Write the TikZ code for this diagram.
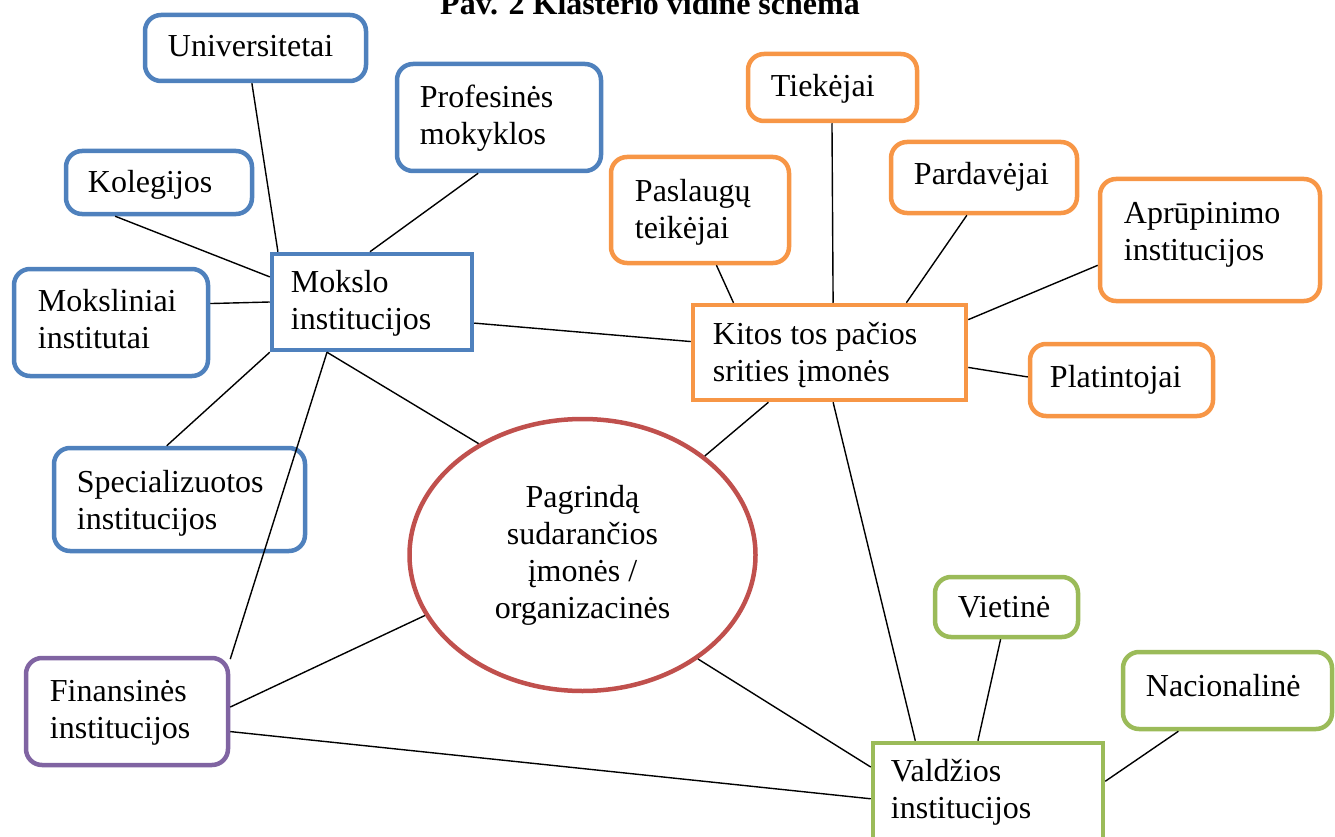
\documentclass[tikz,border=0pt]{standalone}
\usepackage{fontspec}
\setmainfont{Liberation Serif}
\usetikzlibrary{calc,shapes.geometric}
\definecolor{cblue}{HTML}{4F81BD}
\definecolor{corange}{HTML}{F79646}
\definecolor{cred}{HTML}{C0504D}
\definecolor{cpurple}{HTML}{8064A2}
\definecolor{cgreen}{HTML}{9BBB59}
\begin{document}
\begin{tikzpicture}[x=1pt,y=-1pt,
  every node/.style={font=\fontsize{32}{37}\selectfont},
  rbox/.style={draw, line width=4.5pt, rounded corners=16pt, inner sep=0pt},
  sbox/.style={draw, line width=4.5pt, inner sep=0pt},
  txt/.style={anchor=north west, inner sep=0pt, align=left},
  link/.style={draw=black, line width=1.4pt}]
\useasboundingbox (0,0) rectangle (1335,837);

% title (cut at top)
\node[anchor=base, inner sep=0pt, font=\bfseries\fontsize{32}{37}\selectfont] (title) at (650,15) {Pav. 2 Klasterio vidinė schema};

% blue group
\node[rbox, draw=cblue, minimum width=221, minimum height=66] (uni) at (255.5,48) {};
\node[txt] (uni-t) at ($(uni.north west)+(25,22.3)$) {Universitetai};
\node[rbox, draw=cblue, minimum width=204, minimum height=107] (prof) at (499,117.5) {};
\node[txt] (prof-t) at ($(prof.north west)+(25,23.3)$) {Profesinės\\mokyklos};
\node[rbox, draw=cblue, minimum width=186, minimum height=63] (kol) at (159,182.5) {};
\node[txt] (kol-t) at ($(kol.north west)+(24,21.3)$) {Kolegijos};
\node[sbox, draw=cblue, minimum width=200, minimum height=96] (mok) at (372,302) {};
\node[txt] (mok-t) at ($(mok.north west)+(21,18.3)$) {Mokslo\\institucijos};
\node[rbox, draw=cblue, minimum width=194, minimum height=107] (moks) at (111,322.5) {};
\node[txt] (moks-t) at ($(moks.north west)+(26,22.3)$) {Moksliniai\\institutai};
\node[rbox, draw=cblue, minimum width=251, minimum height=103] (spec) at (179.5,499.5) {};
\node[txt] (spec-t) at ($(spec.north west)+(25,24.3)$) {Specializuotos\\institucijos};

% purple
\node[rbox, draw=cpurple, minimum width=202, minimum height=107] (fin) at (127,711.5) {};
\node[txt] (fin-t) at ($(fin.north west)+(26,24.3)$) {Finansinės\\institucijos};

% orange group
\node[rbox, draw=corange, minimum width=169, minimum height=67] (tiek) at (832.5,87.5) {};
\node[txt] (tiek-t) at ($(tiek.north west)+(25,22.3)$) {Tiekėjai};
\node[rbox, draw=corange, minimum width=178, minimum height=106] (pasl) at (700,210) {};
\node[txt] (pasl-t) at ($(pasl.north west)+(26,24.3)$) {Paslaugų\\teikėjai};
\node[rbox, draw=corange, minimum width=186, minimum height=71] (pard) at (984,177.5) {};
\node[txt] (pard-t) at ($(pard.north west)+(25,22.3)$) {Pardavėjai};
\node[rbox, draw=corange, minimum width=220, minimum height=122] (apr) at (1210,240) {};
\node[txt] (apr-t) at ($(apr.north west)+(26,25.3)$) {Aprūpinimo\\institucijos};
\node[sbox, draw=corange, minimum width=273, minimum height=95] (kit) at (829.5,352.5) {};
\node[txt] (kit-t) at ($(kit.north west)+(22,19.3)$) {Kitos tos pačios\\srities įmonės};
\node[rbox, draw=corange, minimum width=183, minimum height=72] (plat) at (1121.5,380) {};
\node[txt] (plat-t) at ($(plat.north west)+(22,23.3)$) {Platintojai};

% ellipse
\node[draw=cred, line width=4.5pt, ellipse, minimum width=346, minimum height=272, inner sep=0pt, align=center] (ell) at (582.5,555) {Pagrindą\\sudarančios\\įmonės /\\organizacinės};

% green group
\node[sbox, draw=cgreen, minimum width=230, minimum height=105] (val) at (988,795.5) {};
\node[txt] (val-t) at ($(val.north west)+(20,18.3)$) {Valdžios\\institucijos};
\node[rbox, draw=cgreen, minimum width=143, minimum height=60] (viet) at (1006.5,607) {};
\node[txt] (viet-t) at ($(viet.north west)+(25,21.3)$) {Vietinė};
\node[rbox, draw=cgreen, minimum width=209, minimum height=77] (nac) at (1227.5,690.5) {};
\node[txt] (nac-t) at ($(nac.north west)+(25,24.3)$) {Nacionalinė};

% connectors
\draw[link] ($(uni.south west)!0.484!(uni.south east)$) -- ($(mok.north west)!0.04!(mok.north east)$);
\draw[link] ($(prof.south west)!0.40!(prof.south east)$) -- ($(mok.north west)!0.49!(mok.north east)$);
\draw[link] ($(kol.south west)!0.27!(kol.south east)$) -- ($(mok.north west)!0.25!(mok.south west)$);
\draw[link] ($(moks.north east)!0.33!(moks.south east)$) -- (mok.west);
\draw[link] ($(mok.north east)!0.71!(mok.south east)$) -- ($(kit.north west)!0.39!(kit.south west)$);
\draw[link] (mok.south west) -- ($(spec.north west)!0.45!(spec.north east)$);
\draw[link] ($(mok.south west)!0.28!(mok.south east)$) -- ($(fin.north east)!0.03!(fin.south east)$);
\draw[link] ($(mok.south west)!0.28!(mok.south east)$) -- (ell.133.8);
\draw[link] ($(kit.south west)!0.28!(kit.south east)$) -- (ell.39.4);
\draw[link] ($(kit.south west)!0.513!(kit.south east)$) -- ($(val.north west)!0.19!(val.north east)$);
\draw[link] ($(pasl.south west)!0.59!(pasl.south east)$) -- ($(kit.north west)!0.154!(kit.north east)$);
\draw[link] ($(tiek.south west)!0.497!(tiek.south east)$) -- ($(kit.north west)!0.513!(kit.north east)$);
\draw[link] ($(pard.south west)!0.41!(pard.south east)$) -- ($(kit.north west)!0.777!(kit.north east)$);
\draw[link] ($(apr.north west)!0.70!(apr.south west)$) -- ($(kit.north east)!0.17!(kit.south east)$);
\draw[link] ($(plat.north west)!0.46!(plat.south west)$) -- ($(kit.north east)!0.65!(kit.south east)$);
\draw[link] (ell.201.2) -- ($(fin.north east)!0.46!(fin.south east)$);
\draw[link] ($(fin.north east)!0.68!(fin.south east)$) -- ($(val.north west)!0.53!(val.south west)$);
\draw[link] (ell.318.7) -- ($(val.north west)!0.24!(val.south west)$);
\draw[link] ($(viet.south west)!0.46!(viet.south east)$) -- ($(val.north west)!0.457!(val.north east)$);
\draw[link] ($(nac.south west)!0.27!(nac.south east)$) -- ($(val.north east)!0.37!(val.south east)$);
\end{tikzpicture}
\end{document}
